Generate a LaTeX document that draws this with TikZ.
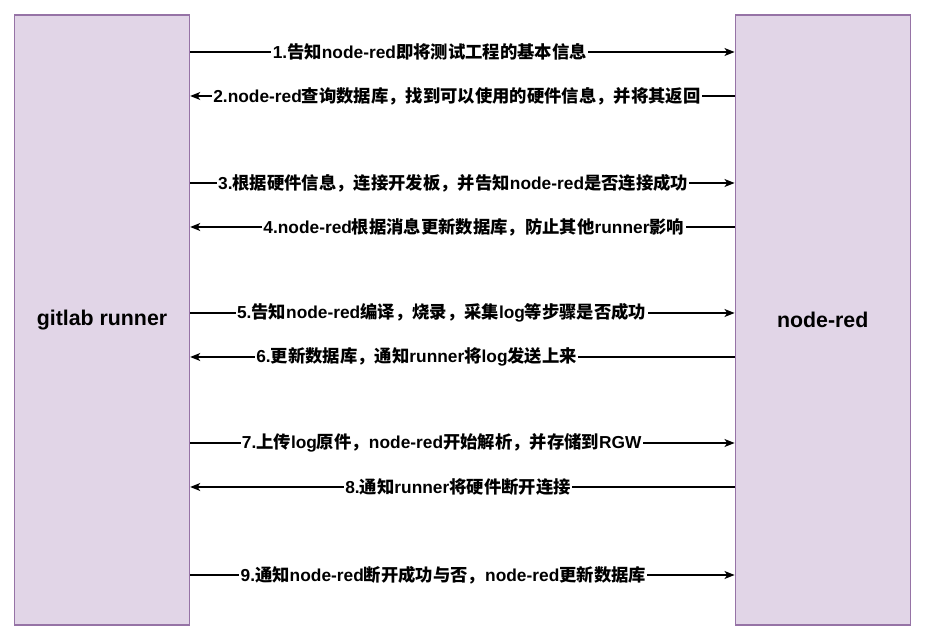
\documentclass[tikz,border=0pt]{standalone}
\usepackage{fontspec}
\setmainfont{Liberation Sans}
\newfontfamily\cjk{Noto Sans CJK SC}
\newcommand{\zh}[1]{{\cjk #1}}
\usetikzlibrary{arrows.meta}
\definecolor{boxfill}{HTML}{E1D5E7}
\definecolor{boxline}{HTML}{9673A6}
\begin{document}
\begin{tikzpicture}[x=0.75pt,y=-0.75pt,
  lane/.style={draw=boxline,fill=boxfill,line width=1.1pt,minimum width=175*0.75pt,minimum height=610*0.75pt,inner sep=0pt,font=\fontsize{16}{19}\selectfont\bfseries},
  msg/.style={draw=black,line width=0.9pt,-{Stealth[length=7.5pt,width=6pt,inset=2pt]}},
  lbl/.style={fill=white,inner sep=1pt,font=\fontsize{13}{15}\selectfont\bfseries}]
\useasboundingbox (0,0) rectangle (926,641);
\node[lane] (L) at (102,320) {gitlab runner};
\node[lane] (R) at (822.75,320) {node-red};
\draw[msg] (L.east |- 0,52) -- (R.west |- 0,52) node[lbl,pos=0.440] {1.\zh{告知}node-red\zh{即将测试工程的基本信息}};
\draw[msg] (R.west |- 0,96) -- (L.east |- 0,96) node[lbl,pos=0.510] {2.node-red\zh{查询数据库，找到可以使用的硬件信息，并将其返回}};
\draw[msg] (L.east |- 0,183) -- (R.west |- 0,183) node[lbl,pos=0.483] {3.\zh{根据硬件信息，连接开发板，并告知}node-red\zh{是否连接成功}};
\draw[msg] (R.west |- 0,227) -- (L.east |- 0,227) node[lbl,pos=0.479] {4.node-red\zh{根据消息更新数据库，防止其他}runner\zh{影响}};
\draw[msg] (L.east |- 0,313) -- (R.west |- 0,313) node[lbl,pos=0.462] {5.\zh{告知}node-red\zh{编译，烧录，采集}log\zh{等步骤是否成功}};
\draw[msg] (R.west |- 0,357) -- (L.east |- 0,357) node[lbl,pos=0.584] {6.\zh{更新数据库，通知}runner\zh{将}log\zh{发送上来}};
\draw[msg] (L.east |- 0,443) -- (R.west |- 0,443) node[lbl,pos=0.462] {7.\zh{上传}log\zh{原件，}node-red\zh{开始解析，并存储到}RGW};
\draw[msg] (R.west |- 0,487) -- (L.east |- 0,487) node[lbl,pos=0.508] {8.\zh{通知}runner\zh{将硬件断开连接}};
\draw[msg] (L.east |- 0,575) -- (R.west |- 0,575) node[lbl,pos=0.465] {9.\zh{通知}node-red\zh{断开成功与否，}node-red\zh{更新数据库}};
\end{tikzpicture}
\end{document}
